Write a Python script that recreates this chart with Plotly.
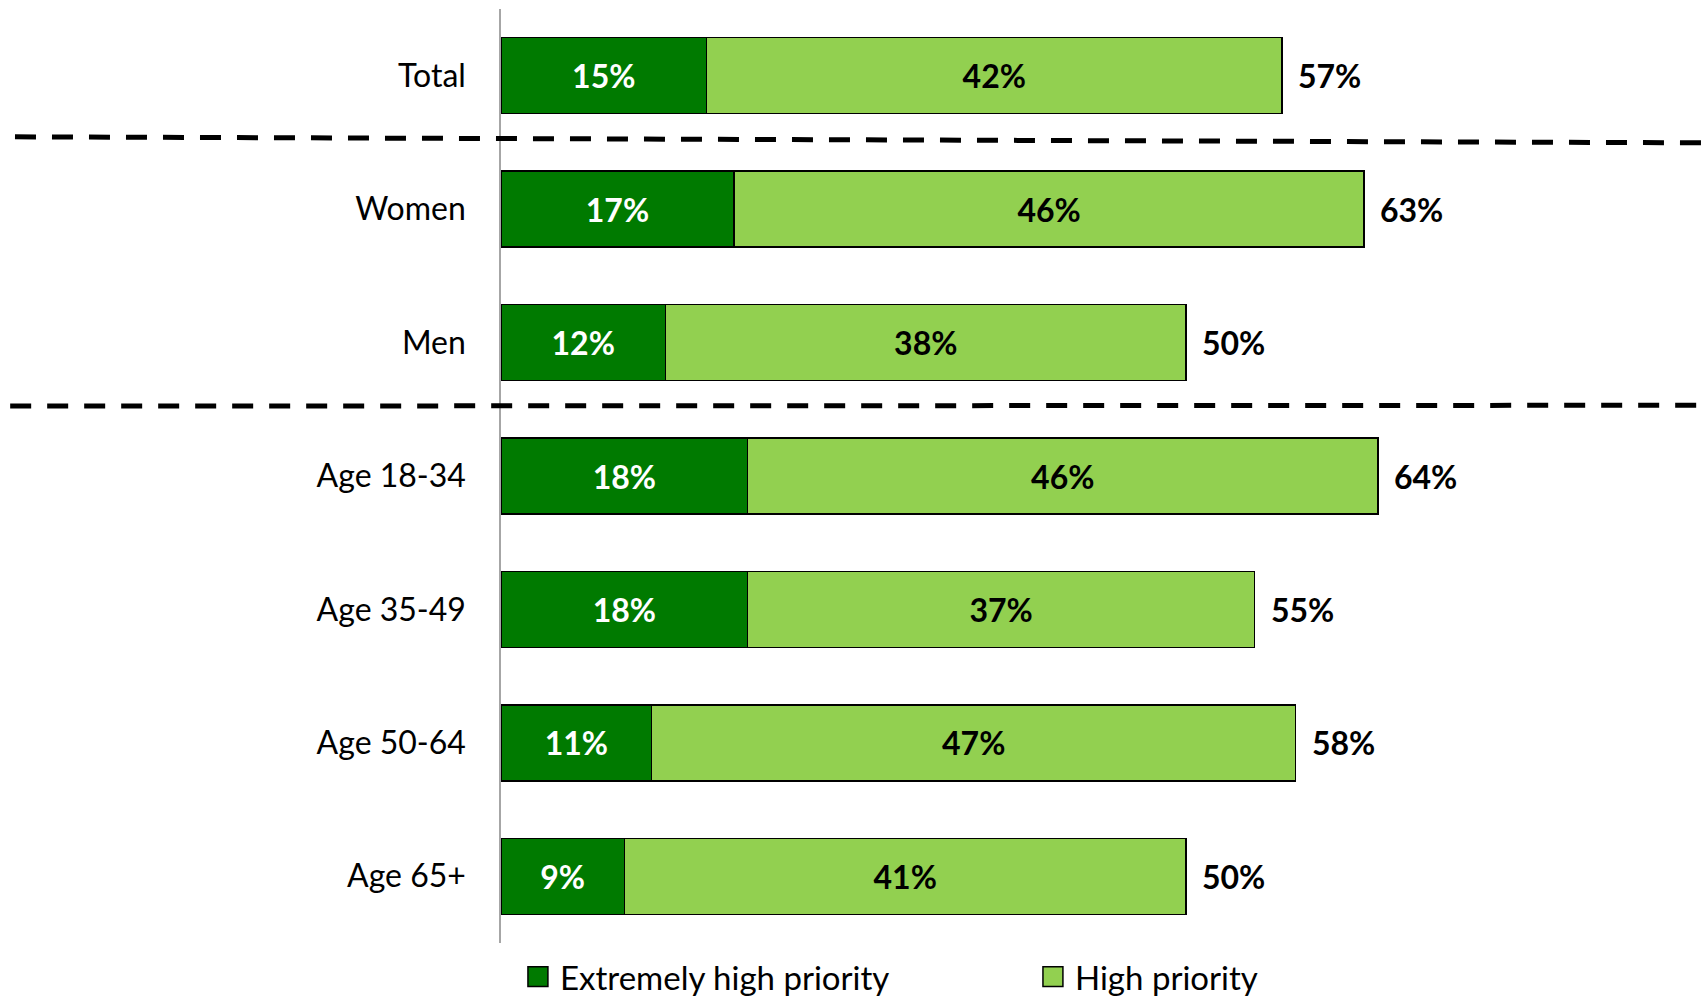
import plotly.graph_objects as go

# Survey groups, top to bottom
groups = ["Total", "Women", "Men", "Age 18-34", "Age 35-49", "Age 50-64", "Age 65+"]
extremely_high = [15, 17, 12, 18, 18, 11, 9]
high = [42, 46, 38, 46, 37, 47, 41]
totals = [a + b for a, b in zip(extremely_high, high)]

series_names = ["Extremely high priority", "High priority"]
series_colors = ["#007A00", "#92D050"]
label_colors = ["white", "black"]

FONT = "Lato"
VALUE_SIZE = 32

fig = go.Figure()

for name, vals, col, tcol in zip(series_names, [extremely_high, high],
                                 series_colors, label_colors):
    fig.add_trace(go.Bar(
        y=groups, x=vals, orientation="h", name=name,
        marker=dict(color=col, line=dict(color="#000000", width=1.5)),
        width=0.57,
        text=[f"{v}%" for v in vals], textposition="inside",
        insidetextanchor="middle", textangle=0,
        textfont=dict(family=FONT, size=VALUE_SIZE, color=tcol, weight="bold"),
        showlegend=False, hoverinfo="skip",
    ))

# Total labels to the right of each bar
for g, t in zip(groups, totals):
    fig.add_annotation(
        x=t, y=g, xref="x", yref="y", text=f"<b>{t}%</b>",
        showarrow=False, xanchor="left", xshift=14,
        font=dict(family=FONT, size=VALUE_SIZE, color="black"),
    )

# Dashed separators between sections
separators = [(0.458, 0.503, -0.404), (2.476, 2.47, -0.408)]
for y_left, y_right, x_left in separators:
    fig.add_shape(
        type="line", xref="paper", yref="y",
        x0=x_left, x1=1.0, y0=y_left, y1=y_right,
        line=dict(color="black", width=5, dash="21px,16px"),
    )

# Key below the plot: square swatch followed by series name
key_x = [0.0224, 0.4505]
key_y = -0.036
swatch_w = 0.0166
swatch_h = 0.0214
for name, col, kx in zip(series_names, series_colors, key_x):
    fig.add_shape(
        type="rect", xref="paper", yref="paper",
        x0=kx, x1=kx + swatch_w, y0=key_y - swatch_h / 2, y1=key_y + swatch_h / 2,
        fillcolor=col, line=dict(color="#000000", width=1.5),
    )
    fig.add_annotation(
        x=kx + swatch_w + 0.008, y=key_y, xref="paper", yref="paper",
        text=name, showarrow=False, xanchor="left", yanchor="middle",
        font=dict(family=FONT, size=33, color="black"),
    )

fig.update_layout(
    width=1704, height=998,
    margin=dict(l=501, r=0, t=9, b=55),
    paper_bgcolor="white", plot_bgcolor="white",
    barmode="stack", showlegend=False,
    font=dict(family=FONT, size=32, color="black"),
    xaxis=dict(range=[0, 87.8], visible=False, fixedrange=True),
    yaxis=dict(
        categoryorder="array", categoryarray=groups, autorange="reversed",
        showline=True, linecolor="#A6A6A6", linewidth=1.5,
        showgrid=False, zeroline=False, ticks="",
        ticklabelstandoff=27,
        tickfont=dict(family=FONT, size=32, color="black"),
    ),
)

fig.write_html("out.html")
